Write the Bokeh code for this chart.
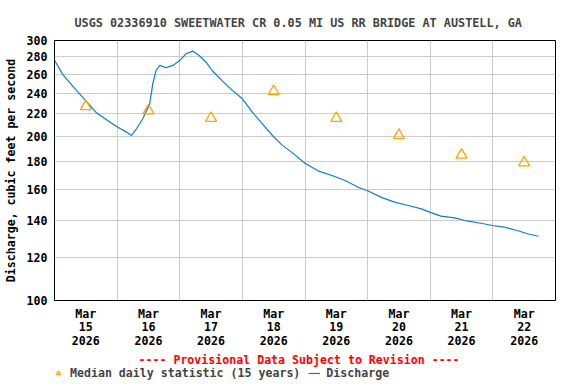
from bokeh.plotting import figure
from bokeh.layouts import column
from bokeh.models import (FixedTicker, Range1d, Title, Legend, LegendItem,
                          NumeralTickFormatter)
from bokeh.embed import file_html
from bokeh.resources import INLINE

# ---- data (x = days since Mar 15 2026 00:00) ----
day_ticks = [0.5, 1.5, 2.5, 3.5, 4.5, 5.5, 6.5, 7.5]
day_labels = ["Mar\n15\n2026", "Mar\n16\n2026", "Mar\n17\n2026", "Mar\n18\n2026",
              "Mar\n19\n2026", "Mar\n20\n2026", "Mar\n21\n2026", "Mar\n22\n2026"]
midnights = [1, 2, 3, 4, 5, 6, 7]
y_ticks = [100, 120, 140, 160, 180, 200, 220, 240, 260, 280, 300]

median_days = [0.5, 1.5, 2.5, 3.5, 4.5, 5.5, 6.5, 7.5]
median_cfs = [227, 223, 216, 242, 216, 201, 185, 179]

discharge_days = [0.0, 0.13, 0.35, 0.51, 0.67, 0.83, 0.99, 1.15, 1.23, 1.31,
                  1.41, 1.52, 1.57, 1.62, 1.68, 1.78, 1.89, 1.99, 2.10, 2.21,
                  2.31, 2.42, 2.52, 2.68, 2.84, 3.00, 3.16, 3.32, 3.48, 3.63,
                  3.79, 4.00, 4.22, 4.43, 4.64, 4.85, 4.99, 5.22, 5.43, 5.65,
                  5.86, 5.99, 6.17, 6.39, 6.60, 6.81, 6.99, 7.18, 7.39, 7.55,
                  7.73]
discharge_cfs = [276, 260, 243, 232, 221, 214.6, 208.6, 203.7, 200.8, 206.6,
                 215.5, 229.5, 250, 264, 270, 267.4, 270, 275, 283.6, 286.8,
                 281.6, 273.7, 264, 253, 243, 234.5, 221.6, 211, 200.8, 193,
                 187, 178.6, 172.7, 169.6, 166, 161.4, 159.2, 154.6, 151.5, 149.4,
                 147.3, 145.3, 142.8, 141.8, 139.8, 138.6, 137.3, 136.4, 134.4, 132.6,
                 131.2]

FONT = "DejaVu Sans Mono"
FS = "11.6px"
BLUE = "#0a7ed6"
ORANGE = "#ffa500"

p = figure(width=576, height=368, x_range=Range1d(0, 8), y_range=Range1d(100, 300),
           y_axis_type="log", output_backend="svg", toolbar_location=None,
           min_border_left=51, min_border_right=21, min_border_top=40,
           min_border_bottom=68)

p.title.text = "USGS 02336910 SWEETWATER CR 0.05 MI US RR BRIDGE AT AUSTELL, GA"
p.title.align = "left"
p.title.offset = 20
p.title.text_font = FONT
p.title.text_font_size = "11.8px"
p.title.text_font_style = "bold"
p.title.standoff = 22

p.outline_line_color = "black"
p.outline_line_width = 1
p.background_fill_color = "white"
p.border_fill_color = "white"

# x axis
p.xaxis.ticker = FixedTicker(ticks=day_ticks)
p.xaxis.major_label_overrides = {t: l for t, l in zip(day_ticks, day_labels)}
p.xaxis.axis_line_color = None
p.xaxis.major_tick_line_color = None
p.xaxis.minor_tick_line_color = None
p.xaxis.major_tick_out = 0
p.xaxis.major_tick_in = 0
p.xaxis.major_label_standoff = 6
p.xaxis.major_label_text_font = FONT
p.xaxis.major_label_text_font_size = FS
p.xaxis.major_label_text_font_style = "bold"
p.xaxis.major_label_text_line_height = 0.97
p.xaxis.major_label_text_color = "black"

# y axis
p.yaxis.ticker = FixedTicker(ticks=y_ticks)
p.yaxis.formatter = NumeralTickFormatter(format="0")
p.yaxis.major_label_overrides = {t: str(t) for t in y_ticks}
p.yaxis.axis_line_color = None
p.yaxis.major_tick_line_color = None
p.yaxis.minor_tick_line_color = None
p.yaxis.major_tick_out = 0
p.yaxis.major_tick_in = 0
p.yaxis.major_label_standoff = 7
p.yaxis.major_label_text_font = FONT
p.yaxis.major_label_text_font_size = FS
p.yaxis.major_label_text_font_style = "bold"
p.yaxis.major_label_text_color = "black"
p.yaxis.axis_label = "Discharge, cubic feet per second"
p.yaxis.axis_label_text_font = FONT
p.yaxis.axis_label_text_font_size = FS
p.yaxis.axis_label_text_font_style = "bold"
p.yaxis.axis_label_text_color = "black"
p.yaxis.axis_label_standoff = 6

# grids
p.xgrid.ticker = FixedTicker(ticks=midnights)
p.ygrid.ticker = FixedTicker(ticks=y_ticks[1:-1])
p.xgrid.grid_line_color = "#cccccc"
p.ygrid.grid_line_color = "#cccccc"
p.xgrid.grid_line_width = 1
p.ygrid.grid_line_width = 1

p.line(discharge_days, discharge_cfs, line_color=BLUE, line_width=1.2)
p.scatter(median_days, median_cfs, marker="triangle", size=11,
          fill_color=None, line_color=ORANGE, line_width=1.3)

prov = Title(text="---- Provisional Data Subject to Revision ----", align="left",
             offset=84, text_color="red", text_font=FONT, text_font_size=FS,
             text_font_style="bold", standoff=0)
p.add_layout(prov, "below")

# legend strip below the chart (its glyphs lie outside the strip's ranges; only the keys show)
lg = figure(width=576, height=16, x_range=Range1d(-10, -9), y_range=Range1d(0, 1),
            output_backend="svg", toolbar_location=None, title=None,
            min_border_left=0, min_border_right=0, min_border_top=0,
            min_border_bottom=0, x_axis_location=None, y_axis_location=None)
lg.grid.visible = False
lg.outline_line_color = None
lg.background_fill_color = "white"
lg.border_fill_color = "white"
tri_key = lg.scatter(median_days, median_cfs, marker="triangle", size=11, fill_color=None,
                     line_color=ORANGE, line_width=1.3)
line_key = lg.line(discharge_days, discharge_cfs, line_color=BLUE, line_width=1.2)
legend = Legend(items=[LegendItem(label="Median daily statistic (15 years)", renderers=[tri_key]),
                       LegendItem(label="Discharge", renderers=[line_key])],
                orientation="horizontal", location=(-2, 4),
                glyph_width=12, glyph_height=10, label_standoff=6, spacing=8,
                padding=0, margin=0, border_line_color=None,
                background_fill_alpha=0,
                label_text_font=FONT, label_text_font_size=FS,
                label_text_font_style="bold", label_height=10)
lg.add_layout(legend, "center")

layout = column(p, lg, spacing=0)
open("out.html", "w").write(file_html(layout, INLINE))
